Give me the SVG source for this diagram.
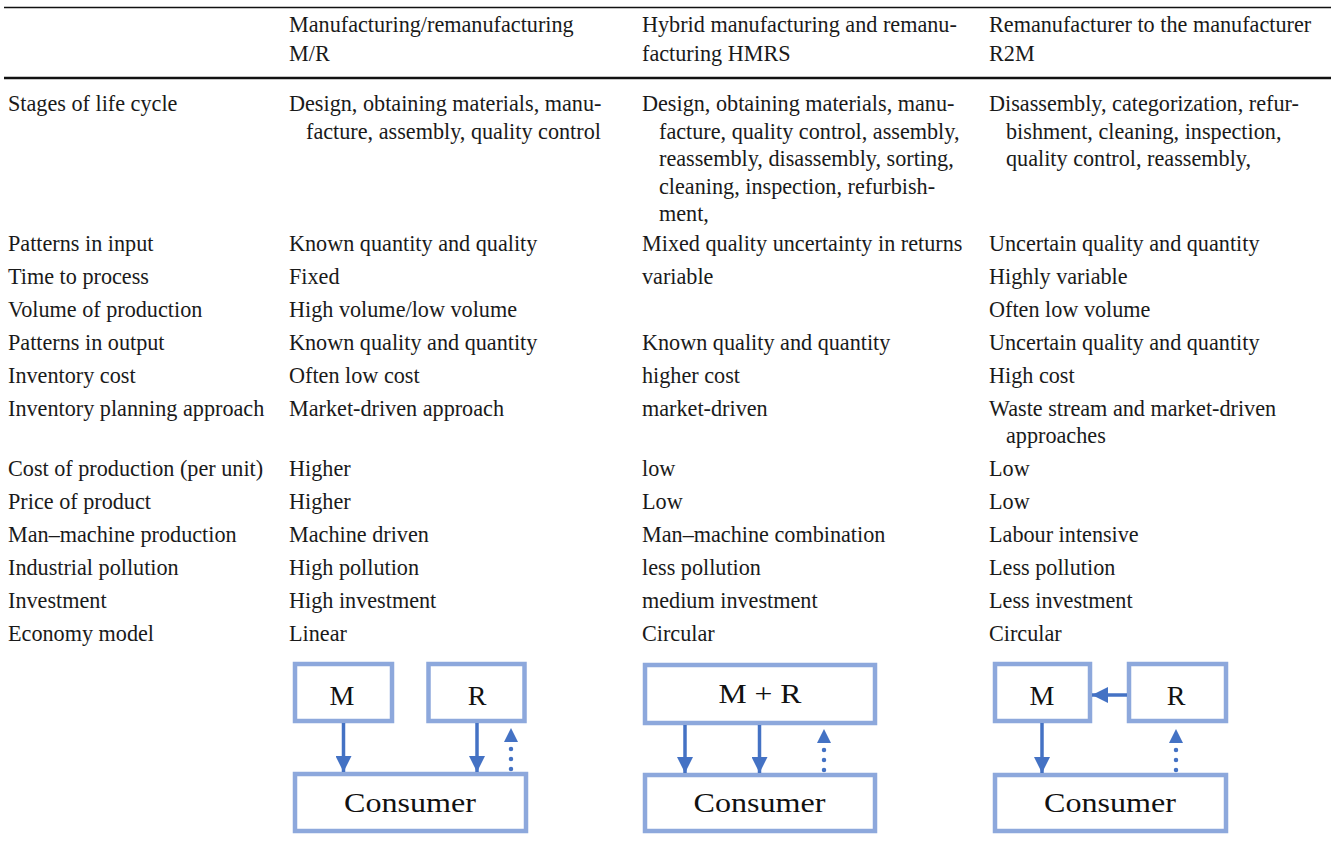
<svg xmlns="http://www.w3.org/2000/svg" width="1331" height="849" viewBox="0 0 1331 849">
<style>
.t{font-family:"Liberation Serif","Times New Roman",serif;font-size:22.2px;fill:#1a1a1a}
.d{font-family:"Liberation Serif","Times New Roman",serif;font-size:28px;fill:#111;text-anchor:middle}
.box{fill:#fff;stroke:#8DA8DC;stroke-width:4.5}
.arr{stroke:#4472C4;stroke-width:3.5;fill:none}
.dot{stroke:#4472C4;stroke-width:4.5;fill:none;stroke-dasharray:0 10;stroke-linecap:round}
.rule{stroke:#111;fill:none}
</style>
<defs>
<marker id="ah" viewBox="0 0 16 16" refX="16" refY="8" markerWidth="16" markerHeight="16" markerUnits="userSpaceOnUse" orient="auto"><path d="M0,0 L16,8 L0,16 z" fill="#4472C4"/></marker>
<marker id="ahb" viewBox="0 0 14 14" refX="0" refY="7" markerWidth="14" markerHeight="14" markerUnits="userSpaceOnUse" orient="auto"><path d="M0,0 L14,7 L0,14 z" fill="#4472C4"/></marker>
</defs>
<rect width="1331" height="849" fill="#fff"/>
<g id="rules">
<line class="rule" x1="4" y1="7.5" x2="1331" y2="7.5" stroke-width="1.3"/>
<line class="rule" x1="4" y1="78" x2="1331" y2="78" stroke-width="2.6"/>
</g>
<g id="header">
<text class="t" x="289" y="32">Manufacturing/remanufacturing</text>
<text class="t" x="289" y="61">M/R</text>
<text class="t" x="642" y="32">Hybrid manufacturing and remanu-</text>
<text class="t" x="642" y="61">facturing HMRS</text>
<text class="t" x="989" y="32">Remanufacturer to the manufacturer</text>
<text class="t" x="989" y="61">R2M</text>
</g>
<g id="col1">
<text class="t" x="8" y="111">Stages of life cycle</text>
<text class="t" x="8" y="251">Patterns in input</text>
<text class="t" x="8" y="284">Time to process</text>
<text class="t" x="8" y="317">Volume of production</text>
<text class="t" x="8" y="350">Patterns in output</text>
<text class="t" x="8" y="383">Inventory cost</text>
<text class="t" x="8" y="416">Inventory planning approach</text>
<text class="t" x="8" y="476">Cost of production (per unit)</text>
<text class="t" x="8" y="509">Price of product</text>
<text class="t" x="8" y="542">Man–machine production</text>
<text class="t" x="8" y="575">Industrial pollution</text>
<text class="t" x="8" y="608">Investment</text>
<text class="t" x="8" y="641">Economy model</text>
</g>
<g id="col2">
<text class="t" x="289" y="111">Design, obtaining materials, manu-</text>
<text class="t" x="306" y="138.5">facture, assembly, quality control</text>
<text class="t" x="289" y="251">Known quantity and quality</text>
<text class="t" x="289" y="284">Fixed</text>
<text class="t" x="289" y="317">High volume/low volume</text>
<text class="t" x="289" y="350">Known quality and quantity</text>
<text class="t" x="289" y="383">Often low cost</text>
<text class="t" x="289" y="416">Market-driven approach</text>
<text class="t" x="289" y="476">Higher</text>
<text class="t" x="289" y="509">Higher</text>
<text class="t" x="289" y="542">Machine driven</text>
<text class="t" x="289" y="575">High pollution</text>
<text class="t" x="289" y="608">High investment</text>
<text class="t" x="289" y="641">Linear</text>
</g>
<g id="col3">
<text class="t" x="642" y="111">Design, obtaining materials, manu-</text>
<text class="t" x="659" y="138.5">facture, quality control, assembly,</text>
<text class="t" x="659" y="166">reassembly, disassembly, sorting,</text>
<text class="t" x="659" y="193.5">cleaning, inspection, refurbish-</text>
<text class="t" x="659" y="221">ment,</text>
<text class="t" x="642" y="251">Mixed quality uncertainty in returns</text>
<text class="t" x="642" y="284">variable</text>
<text class="t" x="642" y="350">Known quality and quantity</text>
<text class="t" x="642" y="383">higher cost</text>
<text class="t" x="642" y="416">market-driven</text>
<text class="t" x="642" y="476">low</text>
<text class="t" x="642" y="509">Low</text>
<text class="t" x="642" y="542">Man–machine combination</text>
<text class="t" x="642" y="575">less pollution</text>
<text class="t" x="642" y="608">medium investment</text>
<text class="t" x="642" y="641">Circular</text>
</g>
<g id="col4">
<text class="t" x="989" y="111">Disassembly, categorization, refur-</text>
<text class="t" x="1006" y="138.5">bishment, cleaning, inspection,</text>
<text class="t" x="1006" y="166">quality control, reassembly,</text>
<text class="t" x="989" y="251">Uncertain quality and quantity</text>
<text class="t" x="989" y="284">Highly variable</text>
<text class="t" x="989" y="317">Often low volume</text>
<text class="t" x="989" y="350">Uncertain quality and quantity</text>
<text class="t" x="989" y="383">High cost</text>
<text class="t" x="989" y="416">Waste stream and market-driven</text>
<text class="t" x="1006" y="443">approaches</text>
<text class="t" x="989" y="476">Low</text>
<text class="t" x="989" y="509">Low</text>
<text class="t" x="989" y="542">Labour intensive</text>
<text class="t" x="989" y="575">Less pollution</text>
<text class="t" x="989" y="608">Less investment</text>
<text class="t" x="989" y="641">Circular</text>
</g>
<g id="d1-M"><rect class="box" x="295" y="664" width="97" height="57"/><text class="d" x="342" y="705">M</text></g>
<g id="d1-R"><rect class="box" x="428.5" y="664" width="96" height="57"/><text class="d" x="477" y="705">R</text></g>
<g id="d1-Consumer"><rect class="box" x="295" y="774" width="231" height="57"/><text class="d" x="410" y="812" textLength="132" lengthAdjust="spacingAndGlyphs">Consumer</text></g>
<g id="d2-MR"><rect class="box" x="645" y="665" width="230" height="58"/><text class="d" x="760" y="703" textLength="83" lengthAdjust="spacingAndGlyphs">M + R</text></g>
<g id="d2-Consumer"><rect class="box" x="645" y="775" width="230" height="56"/><text class="d" x="759.5" y="812" textLength="132" lengthAdjust="spacingAndGlyphs">Consumer</text></g>
<g id="d3-M"><rect class="box" x="995" y="664" width="95" height="57"/><text class="d" x="1042" y="705">M</text></g>
<g id="d3-R"><rect class="box" x="1129" y="664" width="97" height="57"/><text class="d" x="1176" y="705">R</text></g>
<g id="d3-Consumer"><rect class="box" x="995" y="775" width="231" height="56"/><text class="d" x="1110" y="812" textLength="132" lengthAdjust="spacingAndGlyphs">Consumer</text></g>
<g id="connectors">
<line class="arr" x1="343.5" y1="723" x2="343.5" y2="772" marker-end="url(#ah)"/>
<line class="arr" x1="477" y1="723" x2="477" y2="772" marker-end="url(#ah)"/>
<line class="dot" x1="511" y1="769" x2="511" y2="742" marker-end="url(#ahb)"/>
<line class="arr" x1="685" y1="725" x2="685" y2="773" marker-end="url(#ah)"/>
<line class="arr" x1="759.5" y1="725" x2="759.5" y2="773" marker-end="url(#ah)"/>
<line class="dot" x1="824" y1="770" x2="824" y2="743" marker-end="url(#ahb)"/>
<line class="arr" x1="1127" y1="695" x2="1092" y2="695" marker-end="url(#ah)"/>
<line class="arr" x1="1042" y1="723" x2="1042" y2="773" marker-end="url(#ah)"/>
<line class="dot" x1="1176" y1="770" x2="1176" y2="743" marker-end="url(#ahb)"/>
</g>
</svg>
